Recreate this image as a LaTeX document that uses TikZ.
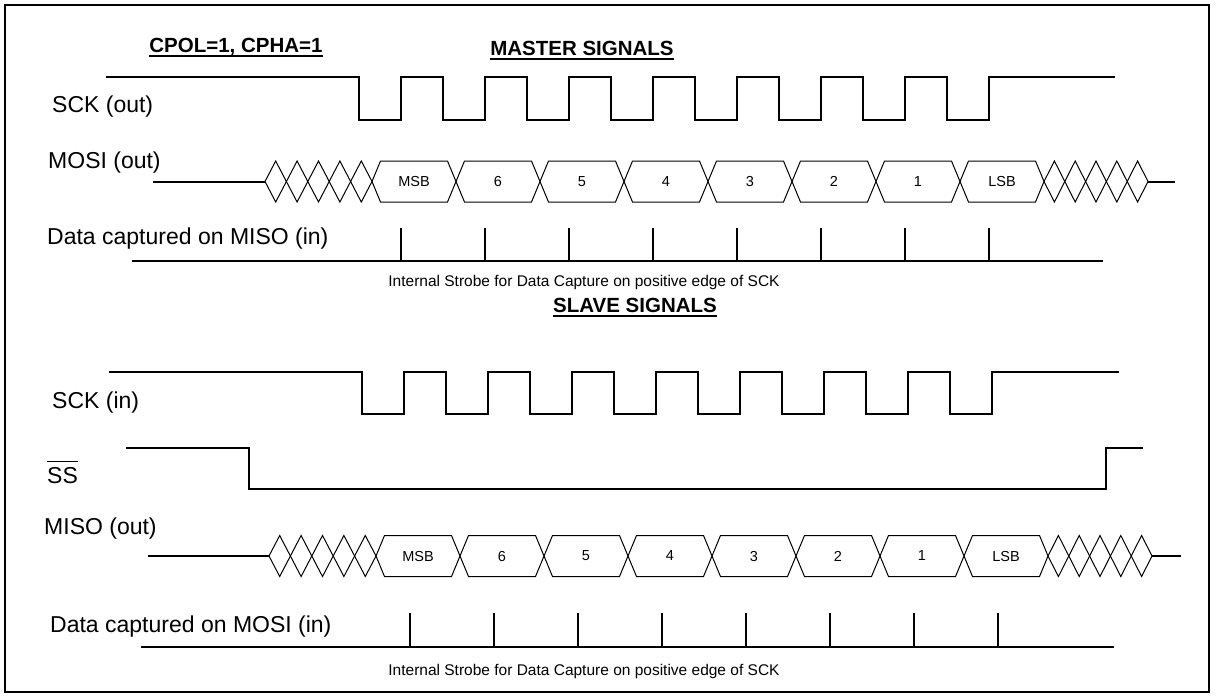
\documentclass[tikz,border=0pt]{standalone}
\usepackage{fontspec}
\setmainfont{Liberation Sans}
\usetikzlibrary{positioning}

\begin{document}
\begin{tikzpicture}[x=1pt,y=-1pt,
  every node/.style={font=\fontsize{23}{27}\selectfont,inner sep=0pt},
  lbl/.style={anchor=base west},
  ttl/.style={anchor=base,font=\fontsize{20.5}{24}\selectfont\bfseries},
  small/.style={font=\fontsize{15.5}{18}\selectfont},
  cell/.style={font=\fontsize{14.5}{17}\selectfont},
  wave/.style={line width=2pt,line join=miter},
  bus/.style={line width=1pt,line join=miter},
  uline/.style={line width=2.3pt}]
\useasboundingbox (0,0) rectangle (1216,697);
\draw[line width=2pt] (5,5) rectangle (1209,692);

% titles
\node[ttl] (cpol) at (236,52) {CPOL=1, CPHA=1};
\node[ttl] (master) at (582,55) {MASTER SIGNALS};
\node[ttl] (slave) at (635,312) {SLAVE SIGNALS};
\foreach \t in {cpol,master,slave}
  \draw[uline] ([yshift=-4pt]\t.base west) -- ([yshift=-4pt]\t.base east);

% master side
\node[lbl] (sckout) at (52,112) {SCK (out)};
\node[lbl] (mosiout) at (48,168) {MOSI (out)};
\node[lbl] (capmiso) at (47,244) {Data captured on MISO (in)};
\node[small] (strobeM) at (584,282) {Internal Strobe for Data Capture on positive edge of SCK};

\draw[wave] (106,77) -| (359,120)
  \foreach \k in {0,...,6} { -| ({401+84*\k},77) -| ({443+84*\k},120) }
  -| (989,77) -- (1115,77);

\begin{scope}[shift={(0,181.5)}]
  \draw[wave] (153,0) -- (265,0);
  \foreach \j in {0,...,4}
    \draw[bus] ({265+21.4*\j},0) -- ++(10.7,-20.5) -- ++(10.7,20.5) -- ++(-10.7,20.5) -- cycle;
  \foreach \k/\v in {0/MSB,1/6,2/5,3/4,4/3,5/2,6/1,7/LSB} {
    \draw[bus] ({372+84*\k},0) -- ++(8.5,-20.5) -- ++(67,0) -- ++(8.5,20.5)
      -- ++(-8.5,20.5) -- ++(-67,0) -- cycle;
    \node[cell] (mosi\k) at ({414+84*\k},0) {\v};
  }
  \foreach \j in {0,...,4}
    \draw[bus] ({1044+20.8*\j},0) -- ++(10.4,-20.5) -- ++(10.4,20.5) -- ++(-10.4,20.5) -- cycle;
  \draw[wave] (1148,0) -- (1175,0);
\end{scope}

\draw[wave] (132,261) -- (1103,261);
\foreach \k in {0,...,7}
  \draw[wave] ({401+84*\k},228) -- ({401+84*\k},261);

% slave side
\node[lbl] (sckin) at (52,408) {SCK (in)};
\node[lbl] (ssbar) at (47,483) {SS};
\draw[line width=1.5pt] ([yshift=5pt]ssbar.north west) -- ([yshift=5pt]ssbar.north east);
\node[lbl] (misoout) at (44,534) {MISO (out)};
\node[lbl] (capmosi) at (50,632) {Data captured on MOSI (in)};
\node[small] (strobeS) at (584,671) {Internal Strobe for Data Capture on positive edge of SCK};

\draw[wave] (109,372) -| (362,414)
  \foreach \k in {0,...,6} { -| ({404+84*\k},372) -| ({446+84*\k},414) }
  -| (992,372) -- (1119,372);

\draw[wave] (126,448) -| (249,489) -| (1106,448) -- (1143,448);

\begin{scope}[shift={(4,556)}]
  \draw[wave] (144,0) -- (265,0);
  \foreach \j in {0,...,4}
    \draw[bus] ({265+21.4*\j},0) -- ++(10.7,-20.5) -- ++(10.7,20.5) -- ++(-10.7,20.5) -- cycle;
  \foreach \k/\v in {0/MSB,1/6,2/5,3/4,4/3,5/2,6/1,7/LSB} {
    \draw[bus] ({372+84*\k},0) -- ++(8.5,-20.5) -- ++(67,0) -- ++(8.5,20.5)
      -- ++(-8.5,20.5) -- ++(-67,0) -- cycle;
    \node[cell] (miso\k) at ({414+84*\k},0) {\v};
  }
  \foreach \j in {0,...,4}
    \draw[bus] ({1044+20.8*\j},0) -- ++(10.4,-20.5) -- ++(10.4,20.5) -- ++(-10.4,20.5) -- cycle;
  \draw[wave] (1148,0) -- (1177,0);
\end{scope}

\draw[wave] (141,647) -- (1114,647);
\foreach \k in {0,...,7}
  \draw[wave] ({410+84*\k},613) -- ({410+84*\k},647);
\end{tikzpicture}
\end{document}
